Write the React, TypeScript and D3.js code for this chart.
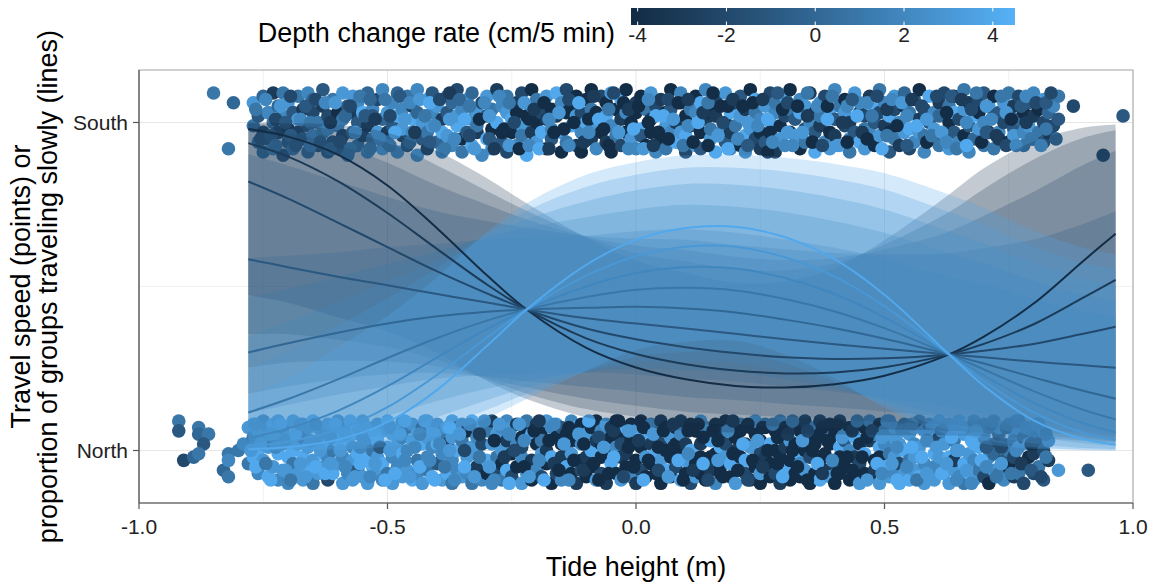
import React from "react";
import * as d3 from "d3";

// ---------- DATA ----------
const tideGrid = [-0.78, -0.7, -0.6, -0.5, -0.4, -0.3, -0.22, -0.1, 0, 0.1, 0.2, 0.3, 0.4, 0.5, 0.63, 0.7, 0.8, 0.9, 0.965];
const rateLevels = [-4, -3, -2, -1, 0, 1, 2, 3, 4];

// predicted proportion travelling slowly, one row per depth-change rate
const fitProb = [
  [0.98, 0.957, 0.902, 0.808, 0.677, 0.534, 0.43, 0.313, 0.253, 0.217, 0.197, 0.192, 0.202, 0.228, 0.293, 0.347, 0.448, 0.578, 0.661],
  [0.937, 0.896, 0.821, 0.724, 0.614, 0.506, 0.43, 0.342, 0.294, 0.263, 0.244, 0.235, 0.238, 0.254, 0.293, 0.325, 0.385, 0.466, 0.52],
  [0.82, 0.768, 0.695, 0.62, 0.546, 0.479, 0.43, 0.372, 0.339, 0.315, 0.297, 0.284, 0.279, 0.281, 0.293, 0.304, 0.325, 0.356, 0.377],
  [0.583, 0.559, 0.53, 0.504, 0.477, 0.451, 0.43, 0.403, 0.387, 0.372, 0.356, 0.339, 0.324, 0.31, 0.293, 0.284, 0.271, 0.26, 0.252],
  [0.299, 0.327, 0.359, 0.387, 0.409, 0.423, 0.43, 0.435, 0.438, 0.433, 0.421, 0.399, 0.373, 0.341, 0.293, 0.265, 0.223, 0.182, 0.158],
  [0.116, 0.157, 0.217, 0.282, 0.343, 0.396, 0.43, 0.468, 0.49, 0.496, 0.488, 0.462, 0.424, 0.373, 0.293, 0.247, 0.181, 0.124, 0.095],
  [0.038, 0.067, 0.121, 0.196, 0.284, 0.37, 0.43, 0.5, 0.541, 0.559, 0.555, 0.526, 0.477, 0.406, 0.293, 0.229, 0.146, 0.083, 0.055],
  [0.012, 0.027, 0.064, 0.132, 0.231, 0.344, 0.43, 0.533, 0.592, 0.621, 0.621, 0.589, 0.53, 0.44, 0.293, 0.212, 0.116, 0.054, 0.032],
  [0.0037, 0.0104, 0.033, 0.0863, 0.185, 0.319, 0.43, 0.566, 0.642, 0.678, 0.682, 0.65, 0.583, 0.475, 0.293, 0.197, 0.092, 0.035, 0.018],
];

// 95% interval half-width on the logit scale, one row per rate
const ciHalfWidth = [
  [4.0, 3.3, 2.6, 2.0, 1.6, 1.45, 1.4, 1.4, 1.4, 1.45, 1.45, 1.5, 1.6, 1.8, 2.15, 2.45, 3.0, 3.8, 4.4],
  [3.3, 2.75, 2.2, 1.74, 1.43, 1.31, 1.28, 1.28, 1.29, 1.34, 1.34, 1.38, 1.45, 1.6, 1.86, 2.1, 2.53, 3.15, 3.63],
  [2.6, 2.2, 1.8, 1.48, 1.25, 1.18, 1.15, 1.15, 1.18, 1.23, 1.23, 1.25, 1.3, 1.4, 1.58, 1.75, 2.05, 2.5, 2.85],
  [1.9, 1.65, 1.4, 1.21, 1.08, 1.04, 1.03, 1.03, 1.06, 1.11, 1.11, 1.13, 1.15, 1.2, 1.29, 1.4, 1.58, 1.85, 2.08],
  [1.2, 1.1, 1.0, 0.95, 0.9, 0.9, 0.9, 0.9, 0.95, 1.0, 1.0, 1.0, 1.0, 1.0, 1.0, 1.05, 1.1, 1.2, 1.3],
  [1.9, 1.65, 1.4, 1.21, 1.08, 1.04, 1.03, 1.03, 1.06, 1.11, 1.11, 1.13, 1.15, 1.2, 1.29, 1.4, 1.58, 1.85, 2.08],
  [2.6, 2.2, 1.8, 1.48, 1.25, 1.18, 1.15, 1.15, 1.18, 1.23, 1.23, 1.25, 1.3, 1.4, 1.58, 1.75, 2.05, 2.5, 2.85],
  [3.3, 2.75, 2.2, 1.74, 1.43, 1.31, 1.28, 1.28, 1.29, 1.34, 1.34, 1.38, 1.45, 1.6, 1.86, 2.1, 2.53, 3.15, 3.63],
  [4.0, 3.3, 2.6, 2.0, 1.6, 1.45, 1.4, 1.4, 1.4, 1.45, 1.45, 1.5, 1.6, 1.8, 2.15, 2.45, 3.0, 3.8, 4.4],
];

// jittered observations: [tide height, jittered direction (1 = South), depth change rate]
const southPoints: [number, number, number][] = [
  [-.85,1.09,1],[-.81,1.06,0],[-.82,.92,1],
  [-.77,.99,1],[-.77,1.06,3],[-.76,1.02,-1],[-.76,.94,2],[-.75,1.08,0],[-.75,.97,-2],[-.75,.91,1],[-.74,1.03,2],[-.74,.95,-1],
  [-.73,1.09,-3],[-.73,1.00,1],[-.73,.92,3],[-.72,1.05,0],[-.72,.97,-2],[-.71,1.02,2],[-.71,.90,-1],[-.71,1.09,1],
  [-.70,.98,-3],[-.70,1.06,3],[-.70,.94,0],[-.69,1.03,-1],[-.69,.92,2],[-.68,1.08,1],[-.68,.97,-2],[-.68,1.01,3],
  [-.67,.95,0],[-.67,1.04,-3],[-.66,1.09,2],[-.66,.99,-1],[-.66,.91,1],[-.65,1.03,-2],[-.65,.96,3],[-.65,1.07,0],
  [-.64,.93,-1],[-.64,1.00,1],[-.63,1.05,-3],[-.63,.97,2],[-.63,1.10,-1],[-.62,.91,0],[-.62,1.02,-2],[-.62,.98,3],
  [-.61,1.07,1],[-.61,.94,-1],[-.60,1.03,-4],[-.60,.99,2],[-.60,.92,0],[-.59,1.09,3],[-.59,.96,-2],[-.59,1.01,1],
  [-.58,1.05,-1],[-.58,.90,2],[-.57,.97,0],[-.57,1.03,-3],[-.57,1.08,3],[-.56,.93,1],[-.56,1.00,-1],[-.56,1.06,2],
  [-.55,.96,-2],[-.55,1.03,4],[-.54,1.09,0],[-.54,.91,3],[-.54,.99,-3],[-.53,1.04,2],[-.53,.95,1],[-.53,1.02,-1],
  [-.52,.97,3],[-.52,1.07,-2],[-.51,.92,4],[-.51,1.01,0],[-.51,1.10,2],[-.50,.97,-3],[-.50,1.03,3],[-.50,.94,1],
  [-.49,1.06,2],[-.49,.99,-1],[-.48,.91,3],[-.48,1.02,4],[-.48,1.09,0],[-.47,.96,-2],[-.47,1.04,2],[-.47,.98,3],
  [-.46,1.08,1],[-.46,.93,-1],[-.45,1.01,4],[-.45,.97,2],[-.45,1.05,-3],[-.44,.90,3],[-.44,1.03,0],[-.44,1.10,2],
  [-.43,.95,-1],[-.43,1.00,3],[-.42,1.07,4],[-.42,.97,1],[-.42,.92,-2],[-.41,1.03,2],[-.41,.99,3],[-.41,1.09,-1],
  [-.40,.94,0],[-.40,1.05,3],[-.39,1.01,-3],[-.39,.91,2],[-.39,.97,4],[-.38,1.08,1],[-.38,1.03,-1],[-.38,.96,3],
  [-.37,.93,2],[-.37,1.06,0],[-.36,.99,4],[-.36,1.10,-2],[-.36,1.02,3],[-.35,.95,-4],[-.35,1.04,2],[-.35,.91,1],
  [-.34,1.07,3],[-.34,.97,-1],[-.33,1.01,2],[-.33,.93,4],[-.33,1.09,0],[-.32,.97,-3],[-.32,1.03,3],[-.32,.99,1],
  [-.31,1.06,-2],[-.31,.90,2],[-.30,.95,4],[-.30,1.02,-1],[-.30,1.08,3],[-.29,.98,-4],[-.29,1.04,1],[-.29,.92,2],
  [-.28,1.10,-3],[-.28,1.00,4],[-.27,.94,-1],[-.27,1.05,2],[-.27,.97,-4],[-.26,1.03,3],[-.26,.91,-2],[-.26,1.08,1],
  [-.25,.97,-4],[-.25,1.01,4],[-.24,1.06,-3],[-.24,.93,2],[-.24,1.03,-4],[-.23,.99,3],[-.23,1.09,-2],[-.23,.96,1],
  [-.22,1.02,-4],[-.22,.90,4],[-.21,1.05,2],[-.21,.97,-3],[-.21,1.10,-4],[-.20,.94,3],[-.20,1.00,-4],[-.20,1.07,1],
  [-.19,1.03,-2],[-.19,.97,4],[-.18,.92,-4],[-.18,1.08,3],[-.18,1.01,-3],[-.17,.98,2],[-.17,1.04,-4],[-.17,.95,-1],
  [-.16,1.09,4],[-.16,1.02,-3],[-.15,.91,-4],[-.15,1.06,2],[-.15,.97,3],[-.14,1.03,-4],[-.14,.94,1],[-.14,1.10,-2],
  [-.13,.99,4],[-.13,1.05,-4],[-.12,.93,-3],[-.12,1.02,3],[-.12,1.08,-4],[-.11,.97,2],[-.11,1.03,-2],[-.11,.91,-4],
  [-.10,1.07,-4],[-.10,1.00,4],[-.09,.95,-3],[-.09,1.04,1],[-.09,1.10,-4],[-.08,.98,3],[-.08,1.03,-4],[-.08,.92,2],
  [-.07,1.08,-2],[-.07,.97,-4],[-.06,1.02,4],[-.06,.94,-3],[-.06,1.06,-4],[-.05,.99,2],[-.05,1.09,3],[-.05,.91,-4],
  [-.04,1.04,-4],[-.04,.96,1],[-.03,1.01,-3],[-.03,1.07,4],[-.03,.93,-2],[-.02,.97,-4],[-.02,1.03,2],[-.02,1.10,-4],
  [-.01,.95,3],[-.01,1.00,-4],[.00,1.06,-3],[.00,.92,2],[.00,1.03,-4],[.01,.98,4],[.01,1.08,-4],[.01,.96,-1],
  [.02,1.04,1],[.02,.93,-4],[.03,1.01,-3],[.03,1.09,3],[.03,.97,-4],[.04,.91,2],[.04,1.05,-2],[.04,1.02,4],
  [.05,.95,-4],[.05,1.07,-3],[.06,.99,3],[.06,1.03,-4],[.06,.92,1],[.07,1.10,-4],[.07,.97,2],[.07,1.04,-1],
  [.08,.94,4],[.08,1.00,-3],[.09,1.06,-4],[.09,.97,3],[.09,1.09,2],[.10,.91,-2],[.10,1.02,-4],[.10,.96,4],
  [.11,1.04,1],[.11,.99,-3],[.12,1.08,-4],[.12,.93,3],[.12,1.03,2],[.13,.97,-4],[.13,1.06,4],[.13,.92,-1],
  [.14,1.01,-3],[.14,1.10,2],[.15,.95,3],[.15,1.03,-4],[.15,.98,1],[.16,1.07,-2],[.16,.91,4],[.16,1.02,-3],
  [.17,.97,2],[.17,1.05,-4],[.18,.94,-1],[.18,1.09,3],[.18,1.00,-4],[.19,1.03,4],[.19,.97,-3],[.19,.92,2],
  [.20,1.06,-2],[.20,.99,1],[.21,.93,-4],[.21,1.02,3],[.21,1.08,-1],[.22,.96,4],[.22,1.04,-3],[.22,.91,2],
  [.23,1.10,-4],[.23,.98,3],[.24,1.03,1],[.24,.95,-2],[.24,1.07,4],[.25,.97,-4],[.25,1.01,2],[.25,.92,-3],
  [.26,1.05,3],[.26,.94,-1],[.27,1.09,-2],[.27,1.00,4],[.27,.97,-4],[.28,1.03,2],[.28,.91,-3],[.28,1.06,1],
  [.29,.99,-4],[.29,.95,3],[.30,1.08,4],[.30,1.02,-2],[.30,.93,2],[.31,.97,-3],[.31,1.04,1],[.31,1.10,-4],
  [.32,.96,3],[.32,1.01,-1],[.33,1.07,2],[.33,.92,-4],[.33,1.03,4],[.34,.98,-2],[.34,1.05,3],[.34,.94,1],
  [.35,1.09,-3],[.35,1.00,2],[.36,.91,4],[.36,1.03,-4],[.36,.97,-1],[.37,1.06,3],[.37,.99,-3],[.37,1.02,1],
  [.38,.94,2],[.38,1.08,-2],[.39,.97,-4],[.39,1.04,4],[.39,.92,3],[.40,1.01,-1],[.40,1.10,2],[.40,.96,-3],
  [.41,1.05,1],[.41,.93,4],[.42,.99,-2],[.42,1.03,3],[.42,1.07,-4],[.43,.95,2],[.43,1.00,-3],[.43,.91,1],
  [.44,1.09,3],[.44,.97,-1],[.45,1.03,-4],[.45,.94,4],[.45,1.06,2],[.46,.98,1],[.46,1.02,-2],[.46,.92,3],
  [.47,1.08,-3],[.47,.97,2],[.48,1.04,4],[.48,.93,-4],[.48,1.00,-1],[.49,1.10,1],[.49,.96,3],[.49,1.03,-2],
  [.50,.99,-3],[.50,1.06,2],[.51,.91,-1],[.51,1.02,4],[.51,.97,-4],[.52,1.08,3],[.52,.95,1],[.52,1.04,-2],
  [.53,1.00,2],[.53,.93,-3],[.54,1.05,-4],[.54,.97,3],[.54,1.09,0],[.55,1.03,1],[.55,.92,-2],[.55,.98,4],
  [.56,1.07,-1],[.56,.94,2],[.57,1.01,-3],[.57,.97,3],[.57,1.10,-4],[.58,.96,1],[.58,1.04,-2],[.58,.91,2],
  [.59,1.08,4],[.59,1.00,-1],[.60,.95,-4],[.60,1.03,2],[.60,.98,3],[.61,1.06,-3],[.61,.93,1],[.61,1.02,0],
  [.62,.97,2],[.62,1.09,-2],[.63,1.00,-4],[.63,.92,3],[.63,1.05,1],[.64,.97,-1],[.64,1.03,4],[.64,1.08,-3],
  [.65,.94,2],[.65,1.01,-2],[.66,1.04,3],[.66,.96,-4],[.66,1.10,1],[.67,.99,-1],[.67,.91,2],[.67,1.06,-3],
  [.68,1.02,4],[.68,.95,0],[.69,1.07,-2],[.69,.98,3],[.69,1.03,-4],[.70,.93,1],[.70,1.09,-1],[.70,1.00,2],
  [.71,.97,-3],[.71,1.05,3],[.72,1.02,-2],[.72,.92,1],[.72,1.08,-4],[.73,.97,2],[.73,1.03,-1],[.73,.95,-3],
  [.74,1.06,3],[.74,1.00,-2],[.75,.94,-4],[.75,1.09,1],[.75,1.03,2],[.76,.98,-1],[.76,1.05,-3],[.76,.96,3],
  [.77,1.01,0],[.77,1.08,-2],[.78,.97,2],[.78,1.03,-4],[.78,.93,1],[.79,1.06,-1],[.79,.99,3],[.80,1.02,-3],
  [.80,.95,-2],[.80,1.09,2],[.81,.97,1],[.81,1.04,-4],[.82,1.00,-2],[.82,1.07,3],[.82,.94,-1],[.83,1.03,0],
  [.83,.97,-3],[.84,1.05,2],[.84,.99,-2],[.85,1.01,-1],[.85,1.08,1],
  [.88,1.05,-2],[.94,.90,-2],[.98,1.02,-1],
  [-.765,1.04,1],[-.755,.95,-1],[-.745,1.07,2],[-.735,.96,0],[-.725,1.01,-2],[-.725,.93,2],[-.715,1.05,3],[-.705,1.00,-1],
  [-.695,.96,1],[-.695,1.08,-2],[-.685,.93,0],[-.675,1.01,2],[-.665,1.05,-1],[-.655,.93,3],[-.655,1.00,1],[-.645,1.07,-2],
  [-.635,.94,0],[-.625,1.06,2],[-.615,1.00,-3],[-.615,.92,1],[-.605,1.06,3],[-.595,.94,-1],[-.585,1.02,0],[-.575,.92,2],
  [-.575,1.05,-2],[-.565,.97,3],[-.555,1.08,1],[-.545,1.02,-1],[-.535,.92,2],[-.535,1.07,0],[-.525,1.01,-3],[-.515,.95,3],
  [-.505,1.07,1],[-.495,.93,2],[-.495,1.02,-2],[-.485,.97,4],[-.475,1.08,-1],[-.465,1.01,3],[-.455,.94,0],[-.455,1.06,2],
  [-.445,.97,-3],[-.435,1.07,3],[-.425,1.02,1],[-.415,.94,-1],[-.415,1.06,4],[-.405,.99,2],[-.395,1.07,-2],[-.385,.92,1],
  [-.375,1.01,3],[-.375,1.09,-3],[-.365,.95,2],[-.355,1.07,0],[-.345,1.01,4],[-.335,.96,-2],[-.335,1.05,1],[-.325,.92,3],
  [-.315,1.01,-4],[-.305,1.06,2],[-.295,.95,-1],[-.295,1.02,3],[-.285,.92,-3],[-.275,1.08,2],[-.265,.98,-4],[-.255,1.06,1],
  [-.255,.93,3],[-.245,1.00,-2],[-.235,.92,-4],[-.225,1.06,3],[-.215,1.01,-4],[-.215,.93,2],[-.205,1.04,-3],[-.195,.92,4],
  [-.185,1.06,-4],[-.175,1.01,2],[-.175,.92,-3],[-.165,.97,-4],[-.155,1.03,3],[-.145,.98,-4],[-.135,1.07,-2],[-.135,.93,2],
  [-.125,1.00,-4],[-.115,1.06,4],[-.105,.94,-3],[-.095,1.01,-4],[-.095,.97,2],[-.085,1.08,-3],[-.075,1.01,4],[-.065,.98,-4],
  [-.055,1.04,1],[-.055,.93,-4],[-.045,1.09,-2],[-.035,.97,3],[-.025,1.06,-4],[-.015,.92,2],[-.015,1.04,-3],[-.005,.98,4],
  [.005,1.05,-4],[.015,.92,3],[.025,1.00,-4],[.025,1.07,2],[.035,.93,-3],[.045,.97,-4],[.055,1.02,4],[.065,1.07,-2],
  [.065,.95,-4],[.075,1.01,3],[.085,1.06,-4],[.095,.93,1],[.105,1.07,-3],[.105,.99,2],[.115,.94,-4],[.125,1.00,4],
  [.135,1.03,-3],[.145,.93,-4],[.145,1.06,1],[.155,1.09,-4],[.165,.96,3],[.175,1.00,-2],[.185,1.05,-4],[.185,.92,4],
  [.195,1.07,-3],[.205,.95,2],[.215,1.05,-4],[.225,1.00,3],[.225,.93,-1],[.235,1.06,-4],[.245,.99,2],[.255,1.07,-3],
  [.265,1.01,4],[.265,.91,-4],[.275,.94,2],[.285,1.09,-1],[.295,1.04,-4],[.305,.97,3],[.305,1.06,-2],[.315,.93,2],
  [.325,1.05,-4],[.335,.97,3],[.345,1.02,-3],[.345,1.09,1],[.355,.94,-4],[.365,1.05,2],[.375,.93,-2],[.385,1.01,4],
  [.385,1.05,-4],[.395,1.08,1],[.405,.93,3],[.415,1.00,-3],[.425,.94,-4],[.425,1.05,2],[.435,1.07,-1],[.445,1.02,4],
  [.455,.97,-3],[.465,1.06,2],[.465,.95,-4],[.475,1.02,1],[.485,1.08,-2],[.495,.92,4],[.505,1.04,-3],[.505,.96,1],
  [.515,1.07,2],[.525,.99,-4],[.535,1.06,3],[.545,.93,-1],[.545,1.02,2],[.555,1.07,-3],[.565,.99,4],[.575,1.05,-2],
  [.585,.94,-4],[.585,1.01,3],[.595,.96,1],[.605,1.08,-2],[.615,.97,3],[.625,1.03,-4],[.625,.94,2],[.635,1.08,-1],
  [.645,.92,1],[.655,1.07,-3],[.665,1.00,2],[.665,.93,4],[.675,1.04,-2],[.685,1.09,1],[.695,.94,-4],[.705,1.05,3],
  [.705,.97,-1],[.715,1.01,2],[.725,.96,-3],[.735,1.08,1],[.745,.93,-2],[.745,1.03,3],[.755,1.01,-4],[.765,.93,2],
  [.775,1.05,-1],[.785,1.00,-3],[.785,1.08,2],[.795,.95,1],[.805,1.06,-2],[.815,.93,3],[.825,1.06,-1],[.825,.98,1],
  [.835,1.09,-2],[.845,.95,0],
];

const northPoints: [number, number, number][] = [
  [-.92,.09,1],[-.92,.06,-1],[-.88,.07,1],[-.88,.05,0],[-.86,.05,1],[-.87,.02,-1],[-.91,-.03,-2],[-.89,-.02,0],
  [-.88,-.01,1],[-.82,-.01,1],[-.83,-.06,0],[-.82,-.08,1],[-.82,-.03,2],[-.80,.00,1],[-.79,.02,2],
  [-.78,.02,2],[-.78,.07,3],[-.78,-.04,1],[-.77,.08,3],[-.77,-.02,4],[-.77,.04,1],[-.76,-.07,2],[-.76,.06,3],[-.76,.00,4],
  [-.75,.09,1],[-.75,-.03,3],[-.75,.03,2],[-.74,-.08,4],[-.74,.07,2],[-.74,.01,3],[-.73,-.05,3],[-.73,.08,4],[-.73,.02,-1],
  [-.72,-.09,2],[-.72,.05,3],[-.72,-.01,4],[-.72,.09,3],[-.71,.02,2],[-.71,-.06,3],[-.71,.07,1],[-.70,-.02,4],[-.70,.04,3],[-.70,-.10,2],
  [-.69,.09,3],[-.69,-.04,1],[-.69,.00,4],[-.68,.06,2],[-.68,-.07,3],[-.68,.02,3],[-.67,-.02,4],[-.67,.08,2],[-.67,-.09,3],[-.67,.04,0],
  [-.66,.01,3],[-.66,-.06,4],[-.66,.07,2],[-.65,-.03,3],[-.65,.09,4],[-.65,-.10,1],[-.64,.03,2],[-.64,-.07,3],[-.64,.07,3],
  [-.63,-.01,4],[-.63,.05,2],[-.63,-.05,3],[-.62,.08,3],[-.62,-.09,-2],[-.62,.02,4],[-.62,-.02,2],[-.61,.06,3],[-.61,-.07,4],[-.61,.00,1],
  [-.60,-.04,3],[-.60,.09,2],[-.60,.03,4],[-.59,-.10,3],[-.59,.07,3],[-.59,-.02,2],[-.58,.02,4],[-.58,-.07,2],[-.58,.08,1],
  [-.57,-.03,3],[-.57,.05,4],[-.57,-.09,3],[-.57,.01,2],[-.56,.07,3],[-.56,-.06,-1],[-.56,-.01,4],[-.55,.04,2],[-.55,-.08,3],[-.55,.09,3],
  [-.54,-.02,4],[-.54,.02,2],[-.54,-.10,3],[-.53,.07,3],[-.53,-.05,4],[-.53,.00,1],[-.52,.08,2],[-.52,-.07,3],[-.52,.03,4],[-.52,-.02,3],
  [-.51,-.09,2],[-.51,.06,3],[-.51,-.04,4],[-.50,.01,3],[-.50,.09,4],[-.50,-.07,1],[-.49,-.02,2],[-.49,.05,3],[-.49,-.10,3],
  [-.48,.07,4],[-.48,-.05,2],[-.48,.02,3],[-.47,-.08,3],[-.47,.09,2],[-.47,-.01,4],[-.47,.04,1],[-.46,-.06,3],[-.46,.07,-1],[-.46,.00,2],
  [-.45,.03,3],[-.45,-.09,4],[-.45,.08,2],[-.44,-.03,1],[-.44,.05,3],[-.44,-.07,2],[-.43,.02,4],[-.43,-.10,3],[-.43,.07,-2],
  [-.42,-.02,2],[-.42,.09,3],[-.42,-.06,1],[-.42,.04,3],[-.41,-.08,4],[-.41,.01,2],[-.41,.07,3],[-.40,-.04,-1],[-.40,.08,2],[-.40,.02,4],
  [-.39,-.09,3],[-.39,.05,1],[-.39,-.01,2],[-.38,.07,3],[-.38,-.07,4],[-.38,.02,-3],[-.37,-.03,2],[-.37,.09,3],[-.37,-.10,1],[-.37,.04,3],
  [-.36,.00,4],[-.36,-.06,2],[-.36,.07,-2],[-.35,-.08,3],[-.35,.03,1],[-.35,.08,2],[-.34,-.02,3],[-.34,.06,-4],[-.34,-.07,2],
  [-.33,.01,3],[-.33,-.10,1],[-.33,.09,4],[-.32,-.05,-3],[-.32,.04,2],[-.32,-.01,3],[-.32,.07,1],[-.31,-.09,2],[-.31,.02,-2],[-.31,.08,3],
  [-.30,-.03,4],[-.30,.06,1],[-.30,-.07,-4],[-.29,.02,3],[-.29,-.10,2],[-.29,.09,-3],[-.28,-.02,1],[-.28,.05,3],[-.28,-.07,-2],
  [-.27,.07,2],[-.27,-.04,-4],[-.27,.00,3],[-.27,-.09,1],[-.26,.03,-3],[-.26,.09,2],[-.26,-.06,4],[-.25,-.01,-4],[-.25,.07,3],[-.25,-.08,-2],
  [-.24,.02,2],[-.24,-.05,-4],[-.24,.08,-3],[-.23,-.10,3],[-.23,.04,-4],[-.23,-.02,2],[-.23,.01,-2],[-.22,.07,-4],[-.22,-.07,3],[-.22,.09,1],
  [-.21,-.03,-3],[-.21,.05,4],[-.21,-.09,-4],[-.20,.02,-4],[-.20,-.06,2],[-.20,.08,-3],[-.19,-.01,3],[-.19,.06,-4],[-.19,-.08,-2],[-.19,.03,1],
  [-.18,-.04,-4],[-.18,.09,3],[-.18,.00,-3],[-.17,.07,2],[-.17,-.10,-4],[-.17,-.02,4],[-.16,.04,-4],[-.16,-.07,-2],[-.16,.08,3],
  [-.15,-.02,-3],[-.15,.02,-4],[-.15,-.09,2],[-.15,.07,-1],[-.14,-.05,4],[-.14,.05,-4],[-.14,.01,-3],[-.13,.09,2],[-.13,-.07,-4],[-.13,-.01,3],
  [-.12,.03,-4],[-.12,-.10,-3],[-.12,.07,4],[-.11,-.03,-4],[-.11,.02,2],[-.11,-.06,-2],[-.11,.08,-4],[-.10,.05,3],[-.10,-.08,-4],[-.10,-.02,-3],
  [-.09,.07,-4],[-.09,.00,4],[-.09,-.05,-4],[-.08,-.09,3],[-.08,.03,-3],[-.08,.09,-4],[-.07,-.02,-4],[-.07,.06,2],[-.07,-.07,-2],[-.07,.02,-4],
  [-.06,-.10,-3],[-.06,.08,3],[-.06,-.01,-4],[-.05,.04,-4],[-.05,-.04,4],[-.05,.07,-3],[-.04,-.07,-4],[-.04,.01,2],[-.04,.09,-4],
  [-.03,-.02,-3],[-.03,.05,-4],[-.03,-.09,3],[-.03,.02,-2],[-.02,.07,4],[-.02,-.05,-4],[-.02,-.01,-3],[-.01,.03,-4],[-.01,-.08,2],[-.01,.08,-4],
  [.00,-.03,-4],[.00,.06,3],[.00,-.10,-3],[.01,.01,-4],[.01,-.06,-2],[.01,.09,-4],[.01,.04,4],[.02,-.02,3],[.02,.07,-4],[.02,-.08,-4],
  [.03,.02,-3],[.03,-.04,-4],[.03,.08,2],[.04,-.07,-4],[.04,.05,-4],[.04,-.01,4],[.05,.09,-3],[.05,-.10,-4],[.05,.02,-2],[.05,-.03,3],
  [.06,.07,-4],[.06,-.06,4],[.06,.00,-4],[.07,-.08,-3],[.07,.04,3],[.07,-.02,-4],[.08,.07,-4],[.08,-.05,-2],[.08,.02,-4],
  [.09,-.09,4],[.09,.09,-3],[.09,-.01,-4],[.09,.05,2],[.10,-.07,-4],[.10,.02,-3],[.10,-.03,3],[.11,.08,-4],[.11,-.10,-2],[.11,.00,4],
  [.12,.06,-4],[.12,-.04,-4],[.12,-.08,3],[.13,.02,-3],[.13,.09,4],[.13,-.02,-4],[.13,-.07,-4],[.14,.04,-2],[.14,-.09,-4],[.14,.07,3],
  [.15,-.02,-4],[.15,.03,4],[.15,-.06,-3],[.16,.08,-4],[.16,-.01,-4],[.16,-.10,2],[.17,.05,-3],[.17,-.05,-4],[.17,.01,4],[.17,-.07,-4],
  [.18,.09,-4],[.18,-.02,3],[.18,.02,-2],[.19,-.08,-4],[.19,.07,-4],[.19,-.04,4],[.20,.00,-3],[.20,.04,-4],[.20,-.10,3],
  [.21,-.06,-4],[.21,.08,2],[.21,-.02,-4],[.21,.06,-4],[.22,-.07,-2],[.22,.02,-4],[.22,-.03,4],[.23,.07,-4],[.23,-.09,-3],[.23,.01,3],
  [.24,-.05,-4],[.24,.05,-4],[.24,.09,4],[.25,-.01,-2],[.25,-.10,-4],[.25,.03,-4],[.25,-.07,3],[.26,.07,-4],[.26,-.02,-3],[.26,.08,2],
  [.27,-.08,-4],[.27,.02,4],[.27,-.04,-4],[.28,.06,-4],[.28,-.07,-2],[.28,.00,-4],[.29,.09,3],[.29,-.02,-4],[.29,-.10,-3],[.29,.04,-4],
  [.30,-.05,4],[.30,.07,-4],[.30,.01,-3],[.31,-.09,-4],[.31,.03,3],[.31,-.03,-4],[.32,.08,-2],[.32,-.07,-4],[.32,.02,-4],
  [.33,-.01,4],[.33,.06,-4],[.33,-.08,-4],[.33,-.04,2],[.34,.09,-3],[.34,.00,-4],[.34,-.06,3],[.35,.04,-4],[.35,-.10,-4],[.35,-.02,-2],
  [.36,.07,3],[.36,-.07,-4],[.36,.02,-4],[.37,-.03,-4],[.37,.09,-3],[.37,-.09,4],[.37,.05,-4],[.38,-.01,-4],[.38,.07,2],[.38,-.06,-3],
  [.39,.02,-4],[.39,-.08,3],[.39,.08,-4],[.40,-.04,-2],[.40,.05,-4],[.40,-.10,-4],[.41,.01,4],[.41,-.07,-4],[.41,.09,-3],[.41,-.02,-4],
  [.42,.06,3],[.42,-.05,-4],[.42,.03,-1],[.43,-.09,-4],[.43,.07,-4],[.43,.00,2],[.44,-.02,-3],[.44,.04,4],[.44,-.07,-4],
  [.45,.08,-4],[.45,-.10,3],[.45,.02,-4],[.45,-.04,-2],[.46,.07,-4],[.46,-.01,4],[.46,-.07,-4],[.47,.03,-3],[.47,-.08,-4],[.47,.09,3],
  [.48,-.03,-4],[.48,.05,2],[.48,-.06,-3],[.49,.01,4],[.49,.08,-4],[.49,-.10,3],[.49,-.02,-4],
  [.50,.06,3],[.50,-.05,4],[.50,.02,2],[.51,-.08,3],[.51,.09,4],[.51,-.01,1],[.52,.04,3],[.52,-.07,2],[.52,.07,4],[.52,-.02,3],
  [.53,-.10,4],[.53,.02,3],[.53,-.04,-2],[.54,.08,2],[.54,-.07,3],[.54,.00,4],[.55,.05,3],[.55,-.03,1],[.55,-.09,4],
  [.56,.07,4],[.56,-.02,3],[.56,.02,2],[.56,-.06,3],[.57,.09,-1],[.57,-.08,4],[.57,.01,3],[.58,-.04,2],[.58,.06,4],[.58,-.10,3],
  [.59,.03,3],[.59,-.07,4],[.59,.08,1],[.60,-.01,4],[.60,.07,3],[.60,-.05,2],[.60,-.09,3],[.61,.04,-2],[.61,-.02,3],[.61,.09,4],
  [.62,-.07,4],[.62,.02,3],[.62,.06,2],[.63,-.10,3],[.63,-.02,4],[.63,.08,3],[.64,.03,1],[.64,-.06,3],[.64,.07,4],[.64,-.03,-3],
  [.65,.00,3],[.65,-.08,2],[.65,.09,4],[.66,.05,3],[.66,-.04,4],[.66,-.10,1],[.67,.07,2],[.67,-.01,3],[.67,-.07,4],
  [.68,.02,4],[.68,-.09,3],[.68,.09,-1],[.68,-.03,2],[.69,.06,3],[.69,-.06,1],[.69,.01,4],
  [.70,-.08,-2],[.70,.04,1],[.70,.08,-3],[.71,-.02,2],[.71,.07,-1],[.71,-.10,-4],[.72,.02,-2],[.72,-.06,3],[.72,.09,-3],[.72,-.01,0],
  [.73,.05,-4],[.73,-.07,1],[.73,.07,2],[.74,-.03,-1],[.74,.02,-3],[.74,-.09,2],[.75,.08,-2],[.75,-.05,-4],[.75,.00,1],
  [.76,.06,3],[.76,-.02,-2],[.76,-.08,-3],[.76,.03,-1],[.77,-.07,1],[.77,.09,-4],[.77,.01,2],[.78,.04,-3],[.78,-.04,-1],[.78,-.10,-2],
  [.79,.07,1],[.79,-.02,-4],[.79,.02,2],[.80,-.07,-2],[.80,.05,-1],[.80,-.01,-3],[.81,.08,2],[.81,-.05,1],[.81,.02,-4],
  [.82,-.09,-1],[.82,.00,-2],[.82,.06,3],[.83,-.03,-3],[.83,.03,1],
  [.85,-.06,3],[.91,-.06,-1],
  [-.775,.00,3],[-.765,.08,2],[-.765,-.05,4],[-.755,.02,3],[-.745,-.04,1],[-.735,.05,3],[-.735,-.09,4],[-.725,.01,2],
  [-.715,.08,4],[-.705,-.06,3],[-.705,.03,2],[-.695,-.09,1],[-.685,.05,4],[-.675,-.04,3],[-.675,.08,2],[-.665,-.08,3],
  [-.655,.03,2],[-.645,-.05,4],[-.645,.08,1],[-.635,.00,3],[-.625,-.07,4],[-.615,.04,2],[-.615,-.04,3],[-.605,.08,4],
  [-.595,.00,3],[-.585,-.05,2],[-.585,.05,3],[-.575,.09,4],[-.565,-.08,3],[-.555,.01,2],[-.555,-.04,4],[-.545,.07,3],
  [-.535,-.08,2],[-.525,.05,4],[-.525,-.04,3],[-.515,.01,-1],[-.505,-.09,4],[-.495,.07,2],[-.495,.00,3],[-.485,-.07,4],
  [-.475,.05,3],[-.465,-.03,2],[-.465,.09,4],[-.455,-.08,3],[-.445,.01,2],[-.435,-.05,4],[-.435,.05,1],[-.425,.09,3],
  [-.415,-.03,2],[-.405,.05,3],[-.405,-.09,4],[-.395,.02,2],[-.385,-.05,1],[-.375,.07,4],[-.375,.00,3],[-.365,-.09,2],
  [-.355,.05,3],[-.345,.00,-2],[-.345,-.05,4],[-.335,.08,2],[-.325,-.08,3],[-.315,.05,-3],[-.315,-.02,1],[-.305,.09,2],
  [-.295,-.05,3],[-.285,.03,-4],[-.285,-.09,2],[-.275,.08,3],[-.265,-.02,-3],[-.255,.05,2],[-.255,-.10,4],[-.245,.00,-2],
  [-.235,.08,3],[-.225,-.05,-4],[-.225,.03,2],[-.215,-.08,3],[-.205,.06,-4],[-.195,-.03,2],[-.195,.09,-3],[-.185,-.09,4],
  [-.175,.03,-4],[-.165,-.04,-3],[-.165,.08,2],[-.155,-.06,-4],[-.145,.02,3],[-.135,.07,-4],[-.135,-.09,2],[-.125,-.03,-4],
  [-.115,.05,3],[-.105,-.06,-3],[-.105,.02,-4],[-.095,.09,4],[-.085,-.04,-4],[-.075,.04,-2],[-.075,-.09,-4],[-.065,.01,3],
  [-.055,-.07,-4],[-.045,.06,-3],[-.045,-.02,4],[-.035,.09,-4],[-.025,-.08,-2],[-.015,.01,-4],[-.015,.06,3],[-.005,-.05,-4],
  [.005,.03,-3],[.015,-.09,4],[.015,.07,-4],[.025,-.03,-4],[.035,.05,3],[.045,-.06,-2],[.045,.01,-4],[.055,.06,-4],
  [.065,-.08,3],[.075,.01,-4],[.075,.08,-3],[.085,-.03,4],[.095,-.09,-4],[.105,.06,-4],[.105,-.01,2],[.115,-.06,-3],
  [.125,.08,-4],[.135,-.04,4],[.135,.04,-4],[.145,-.09,-2],[.155,.06,-4],[.165,-.03,3],[.165,.03,-4],[.175,-.08,-4],
  [.185,.06,2],[.195,-.01,-4],[.195,.09,-3],[.205,-.06,-4],[.215,.02,4],[.225,.08,-4],[.225,-.09,-2],[.235,-.03,-4],
  [.245,.03,3],[.255,.07,-4],[.255,-.05,-3],[.265,.00,-4],[.275,.08,2],[.285,-.04,-4],[.285,.04,-4],[.295,-.08,4],
  [.305,.05,-3],[.315,.00,-4],[.315,.09,2],[.325,-.05,-4],[.335,.03,3],[.345,-.09,-4],[.345,.06,-2],[.355,.00,-4],
  [.365,-.04,4],[.375,.07,-4],[.375,-.07,-3],[.385,.03,-4],[.395,-.03,2],[.405,.08,-4],[.405,-.07,-4],[.415,.04,3],
  [.425,-.02,-4],[.435,.06,-3],[.435,-.06,-4],[.445,.09,2],[.455,-.02,-4],[.465,.04,-4],[.465,-.09,3],[.475,.06,-2],
  [.485,-.04,4],[.495,.04,3],[.495,-.07,2],[.505,.09,4],[.515,-.04,3],[.525,.01,2],[.525,-.09,4],[.535,.06,3],
  [.545,-.05,2],[.555,.01,4],[.555,.08,3],[.565,-.09,1],[.575,-.02,4],[.585,.03,2],[.585,-.07,3],[.595,.07,4],
  [.605,.01,3],[.615,-.07,4],[.615,.06,2],[.625,-.04,3],[.635,.04,4],[.645,-.09,2],[.645,.00,3],[.655,.07,4],
  [.665,-.06,3],[.675,.03,4],[.675,-.10,2],[.685,.06,3],[.695,-.03,4],[.705,.01,-1],[.705,-.05,2],[.715,.08,-3],
  [.725,-.08,1],[.735,.01,-2],[.735,-.04,3],[.745,.07,-4],[.755,-.07,1],[.765,.00,2],[.765,.09,-2],[.775,-.04,-3],
  [.785,.07,1],[.795,-.06,-1],[.795,.02,-4],[.805,.08,2],[.815,-.08,-2],[.825,.05,-1],[.825,-.02,1],
];

const xTicks = [-1, -0.5, 0, 0.5, 1];
const xTickLabels = ["-1.0", "-0.5", "0.0", "0.5", "1.0"];
const xMinor = [-0.75, -0.25, 0.25, 0.75];
const yTicks = [0, 1];
const yTickLabels = ["North", "South"];
const yMinor = [0.5];
const legendTicks = [-4, -2, 0, 2, 4];
const legendRange = [-4.15, 4.5];

const FONT = "'Liberation Sans', Arial, Helvetica, sans-serif";

export default function App() {
  const W = 1155, H = 583;
  const P = { left: 139, right: 1133, top: 70, bottom: 503 };
  const x = d3.scaleLinear().domain([-1, 1]).range([P.left, P.right]);
  const y = d3.scaleLinear().domain([-0.16, 1.16]).range([P.bottom, P.top]);
  const color = d3
    .scaleLinear<string>()
    .domain(legendRange)
    .range(["#132B43", "#56B1F7"])
    .interpolate(d3.interpolateLab);
  const lx = d3.scaleLinear().domain(legendRange).range([631, 1015]);

  const logit = (p: number) => Math.log(p / (1 - p));
  const expit = (l: number) => 1 / (1 + Math.exp(-l));

  const series = rateLevels.map((r, i) => ({
    r,
    rows: tideGrid.map((t, j) => {
      const p = fitProb[i][j];
      const w = ciHalfWidth[i][j];
      const l = logit(p);
      return { t, p, lo: expit(l - w), hi: expit(l + w) };
    }),
  }));

  const line = d3.line<any>().x((d) => x(d.t)).y((d) => y(d.p)).curve(d3.curveCatmullRom);
  const area = d3
    .area<any>()
    .x((d) => x(d.t))
    .y0((d) => y(d.lo))
    .y1((d) => y(d.hi))
    .curve(d3.curveCatmullRom);

  const stops = d3.range(0, 1.0001, 0.05);
  const R = 6.8;

  return (
    <svg width={W} height={H} style={{ position: "absolute", left: 0, top: 0, background: "#fff" }} fontFamily={FONT}>
      <defs>
        <linearGradient id="cbar" x1="0" x2="1" y1="0" y2="0">
          {stops.map((s, i) => (
            <stop key={i} offset={s} stopColor={color(legendRange[0] + s * (legendRange[1] - legendRange[0]))} />
          ))}
        </linearGradient>
        <clipPath id="panel">
          <rect x={P.left} y={P.top} width={P.right - P.left} height={P.bottom - P.top} />
        </clipPath>
      </defs>
      <rect x={0} y={0} width={W} height={H} fill="#fff" />

      {/* grid */}
      <g>
        {xMinor.map((v) => (
          <line key={"xm" + v} x1={x(v)} x2={x(v)} y1={P.top} y2={P.bottom} stroke="#f2f2f2" strokeWidth={1} />
        ))}
        {yMinor.map((v) => (
          <line key={"ym" + v} x1={P.left} x2={P.right} y1={y(v)} y2={y(v)} stroke="#f2f2f2" strokeWidth={1} />
        ))}
        {xTicks.map((v) => (
          <line key={"xg" + v} x1={x(v)} x2={x(v)} y1={P.top} y2={P.bottom} stroke="#e6e6e6" strokeWidth={1} />
        ))}
        {yTicks.map((v) => (
          <line key={"yg" + v} x1={P.left} x2={P.right} y1={y(v)} y2={y(v)} stroke="#e6e6e6" strokeWidth={1} />
        ))}
      </g>

      {/* points */}
      <g clipPath="url(#panel)">
        {southPoints.map((d, i) => (
          <circle key={"s" + i} cx={x(d[0])} cy={y(d[1])} r={R} fill={color(d[2])} />
        ))}
        {northPoints.map((d, i) => (
          <circle key={"n" + i} cx={x(d[0])} cy={y(d[1])} r={R} fill={color(d[2])} />
        ))}
      </g>

      {/* confidence ribbons */}
      <g clipPath="url(#panel)">
        {series.map((s) => (
          <path key={"rb" + s.r} d={area(s.rows) as string} fill={color(s.r)} fillOpacity={0.25} stroke="none" />
        ))}
      </g>

      {/* fitted lines */}
      <g clipPath="url(#panel)">
        {series.map((s) => (
          <path key={"ln" + s.r} d={line(s.rows) as string} fill="none" stroke={color(s.r)} strokeWidth={2} />
        ))}
      </g>

      {/* panel border & axes */}
      <rect x={P.left} y={P.top} width={P.right - P.left} height={P.bottom - P.top} fill="none" stroke="#b3b3b3" strokeWidth={1.2} />
      <line x1={P.left} x2={P.left} y1={P.top} y2={P.bottom} stroke="#555" strokeWidth={1.2} />
      <line x1={P.left} x2={P.right} y1={P.bottom} y2={P.bottom} stroke="#555" strokeWidth={1.2} />

      {xTicks.map((v, i) => (
        <g key={"xt" + v}>
          <line x1={x(v)} x2={x(v)} y1={P.bottom} y2={P.bottom + 6} stroke="#555" strokeWidth={1.2} />
          <text x={x(v)} y={526} textAnchor="middle" dominantBaseline="central" fontSize={21} fill="#222">
            {xTickLabels[i]}
          </text>
        </g>
      ))}
      {yTicks.map((v, i) => (
        <g key={"yt" + v}>
          <line x1={P.left - 6} x2={P.left} y1={y(v)} y2={y(v)} stroke="#555" strokeWidth={1.2} />
          <text x={P.left - 11} y={y(v)} textAnchor="end" dominantBaseline="central" fontSize={21} fill="#222">
            {yTickLabels[i]}
          </text>
        </g>
      ))}

      {/* axis titles */}
      <text x={(P.left + P.right) / 2} y={567} textAnchor="middle" dominantBaseline="central" fontSize={27} fill="#000">
        Tide height (m)
      </text>
      <text transform={`translate(21,${(P.top + P.bottom) / 2}) rotate(-90)`} textAnchor="middle" dominantBaseline="central" fontSize={27} fill="#000">
        Travel speed (points) or
      </text>
      <text transform={`translate(48,${(P.top + P.bottom) / 2}) rotate(-90)`} textAnchor="middle" dominantBaseline="central" fontSize={27} fill="#000">
        proportion of groups traveling slowly (lines)
      </text>

      {/* legend */}
      <text x={615} y={33} textAnchor="end" dominantBaseline="central" fontSize={27} fill="#000">
        Depth change rate (cm/5 min)
      </text>
      <rect x={lx(legendRange[0])} y={8} width={lx(legendRange[1]) - lx(legendRange[0])} height={17} fill="url(#cbar)" />
      {legendTicks.map((v) => (
        <g key={"lt" + v}>
          <line x1={lx(v)} x2={lx(v)} y1={8} y2={11.4} stroke="#fff" strokeWidth={1} />
          <line x1={lx(v)} x2={lx(v)} y1={21.6} y2={25} stroke="#fff" strokeWidth={1} />
          <text x={lx(v)} y={34} textAnchor="middle" dominantBaseline="central" fontSize={21} fill="#222">
            {v}
          </text>
        </g>
      ))}
    </svg>
  );
}
